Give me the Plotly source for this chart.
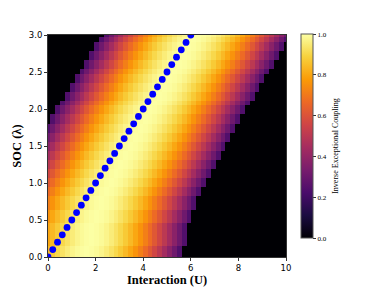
import numpy as np
import plotly.graph_objects as go

# ---- data ----
# heatmap grid (50 x 50 cells)
U_GRID = np.linspace(0, 10, 50)
LAMBDA_GRID = np.linspace(0, 3, 50)

# ridge (brightest) position in U for each lambda row
RIDGE_U = [1.70, 1.70, 1.72, 1.74, 1.77, 1.81, 1.85, 1.90, 1.96, 2.03,
           2.10, 2.17, 2.25, 2.33, 2.41, 2.50, 2.59, 2.69, 2.78, 2.88,
           2.98, 3.08, 3.19, 3.29, 3.40, 3.50, 3.61, 3.72, 3.83, 3.94,
           4.05, 4.16, 4.27, 4.38, 4.50, 4.61, 4.73, 4.84, 4.95, 5.07,
           5.19, 5.30, 5.42, 5.53, 5.65, 5.77, 5.88, 6.00, 6.12, 6.24]

# colour value vs. distance from ridge (in cells); beyond the list -> 0 (black)
PROFILE = [1.000, 0.996, 0.987, 0.973, 0.954, 0.931, 0.905, 0.874, 0.840, 0.802,
           0.761, 0.716, 0.668, 0.616, 0.561, 0.503, 0.442, 0.378, 0.311, 0.240]

# exceptional line points (blue dots)
DOT_U = [0.0, 0.2, 0.4, 0.6, 0.8, 1.0, 1.2, 1.4, 1.6, 1.8, 2.0, 2.2, 2.4, 2.6, 2.8, 3.0,
         3.2, 3.4, 3.6, 3.8, 4.0, 4.2, 4.4, 4.6, 4.8, 5.0, 5.2, 5.4, 5.6, 5.8, 6.0]
DOT_LAMBDA = [0.0, 0.1, 0.2, 0.3, 0.4, 0.5, 0.6, 0.7, 0.8, 0.9, 1.0, 1.1, 1.2, 1.3, 1.4, 1.5,
              1.6, 1.7, 1.8, 1.9, 2.0, 2.1, 2.2, 2.3, 2.4, 2.5, 2.6, 2.7, 2.8, 2.9, 3.0]

X_TICKS = [0, 2, 4, 6, 8, 10]
X_TICK_LABELS = ["0", "2", "4", "6", "8", "10"]
Y_TICKS = [0.0, 0.5, 1.0, 1.5, 2.0, 2.5, 3.0]
Y_TICK_LABELS = ["0.0", "0.5", "1.0", "1.5", "2.0", "2.5", "3.0"]
CB_TICKS = [0.0, 0.2, 0.4, 0.6, 0.8, 1.0]
CB_TICK_LABELS = ["0.0", "0.2", "0.4", "0.6", "0.8", "1.0"]
CB_LABEL = "Inverse Exceptional Coupling"

# build cell matrix by lookup
du = U_GRID[1] - U_GRID[0]
Z = []
for r in RIDGE_U:
    row = []
    for u in U_GRID:
        k = int(round(abs(u - r) / du))
        row.append(PROFILE[k] if k < len(PROFILE) else 0.0)
    Z.append(row)

fig = go.Figure()
fig.add_trace(go.Heatmap(
    x=U_GRID, y=LAMBDA_GRID, z=Z,
    colorscale="Inferno", zmin=0, zmax=1,
    colorbar=dict(
        x=1.062, xanchor="left", xpad=0, y=1.004, yanchor="top", ypad=0,
        len=0.92, lenmode="fraction",
        thickness=11.5, thicknessmode="pixels",
        outlinewidth=1, outlinecolor="#555555",
        tickvals=CB_TICKS, ticktext=CB_TICK_LABELS,
        ticks="outside", ticklen=3, tickcolor="#333333",
        tickfont=dict(family="Liberation Serif", size=7, color="black"),
    ),
))
fig.add_trace(go.Scatter(
    x=DOT_U, y=DOT_LAMBDA, mode="markers",
    marker=dict(color="#0000ff", size=6.8, line=dict(width=0)),
    cliponaxis=True, showlegend=False,
))

fig.add_annotation(
    text=CB_LABEL, xref="paper", yref="paper", x=1.205, y=0.5,
    xanchor="center", yanchor="middle", textangle=-90, showarrow=False,
    font=dict(family="Liberation Serif", size=8, color="black"),
)

fig.update_layout(
    width=384, height=288,
    margin=dict(l=47.5, r=98, t=35, b=31, autoexpand=False),
    paper_bgcolor="white", plot_bgcolor="white",
    showlegend=False,
    xaxis=dict(
        range=[0, 10], tickvals=X_TICKS, ticktext=X_TICK_LABELS,
        automargin=False,
        showgrid=False, zeroline=False, showline=True, mirror=True,
        linecolor="#333333", linewidth=1, ticks="outside", ticklen=3,
        tickcolor="#333333",
        tickfont=dict(family="DejaVu Sans", size=8.5, color="black"),
        title=dict(text="<b>Interaction (U)</b>", standoff=2,
                   font=dict(family="Liberation Serif", size=12.5, color="black")),
    ),
    yaxis=dict(
        range=[0, 3], tickvals=Y_TICKS, ticktext=Y_TICK_LABELS,
        automargin=False,
        showgrid=False, zeroline=False, showline=True, mirror=True,
        linecolor="#333333", linewidth=1, ticks="outside", ticklen=3,
        tickcolor="#333333",
        tickfont=dict(family="DejaVu Sans", size=8.5, color="black"),
        title=dict(text="<b>SOC (λ)</b>", standoff=4,
                   font=dict(family="Liberation Serif", size=12.5, color="black")),
    ),
)

fig.write_html("out.html",
               config={"displayModeBar": False},
               post_script="document.body.style.margin='0';document.body.style.overflow='hidden';")
